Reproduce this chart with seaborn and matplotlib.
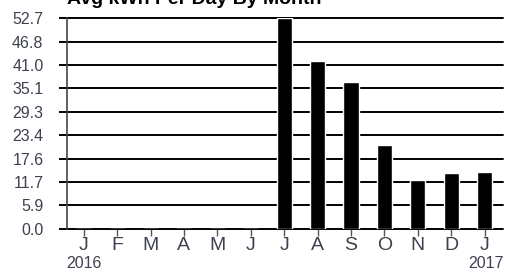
import pandas as pd
import matplotlib.pyplot as plt
import seaborn as sns

# monthly average kWh per day
months = ['2016-01', '2016-02', '2016-03', '2016-04', '2016-05', '2016-06', '2016-07',
          '2016-08', '2016-09', '2016-10', '2016-11', '2016-12', '2017-01']
month_letters = ['J', 'F', 'M', 'A', 'M', 'J', 'J', 'A', 'S', 'O', 'N', 'D', 'J']
kwh_per_day = [0, 0, 0, 0, 0, 0, 52.7, 42.0, 36.8, 21.0, 12.2, 14.0, 14.2]
y_ticks = [0.0, 5.9, 11.7, 17.6, 23.4, 29.3, 35.1, 41.0, 46.8, 52.7]
year_labels = ['2016', '2017']

df = pd.DataFrame({'month': months, 'kwh': kwh_per_day})

sns.set_style('white')
plt.rcParams['font.family'] = ['Liberation Sans', 'DejaVu Sans']
text_color = '#3d4150'

fig = plt.figure(figsize=(5.06, 2.72), dpi=100)
ax = fig.add_axes([67 / 506, 43 / 272, 436 / 506, 211 / 272])

sns.barplot(data=df, x='month', y='kwh', order=months, color='black',
            saturation=1, width=0.45, ax=ax, zorder=3)

ax.set_xlim(-0.5, 12.55)
ax.set_ylim(0, 52.7)
ax.set_yticks(y_ticks)
ax.set_yticklabels([f'{v:.1f}' for v in y_ticks], fontsize=11.5, color=text_color)
ax.set_xticks(range(len(months)))
ax.set_xticklabels(month_letters, fontsize=14, color=text_color)

for v in y_ticks:
    ax.axhline(v, color='black', lw=1.4, zorder=2, clip_on=False)

ax.tick_params(axis='y', length=6, width=1.4, color='black', pad=11, left=True)
ax.tick_params(axis='x', length=5, width=1, color='#555555', pad=0.5, bottom=True)

for s in ['top', 'right', 'bottom']:
    ax.spines[s].set_visible(False)
ax.spines['left'].set_color('#444444')
ax.spines['left'].set_linewidth(1.2)
ax.set_xlabel('')
ax.set_ylabel('')

fig.text(84 / 506, 1 / 272, year_labels[0], ha='center', va='bottom', fontsize=11.5, color=text_color)
fig.text(486 / 506, 1 / 272, year_labels[1], ha='center', va='bottom', fontsize=11.5, color=text_color)
fig.text(67 / 506, 1.0, 'Avg kWh Per Day By Month', ha='left', va='center',
         fontsize=14, fontweight='bold', color='black')

fig.savefig('out.png', dpi=100)
